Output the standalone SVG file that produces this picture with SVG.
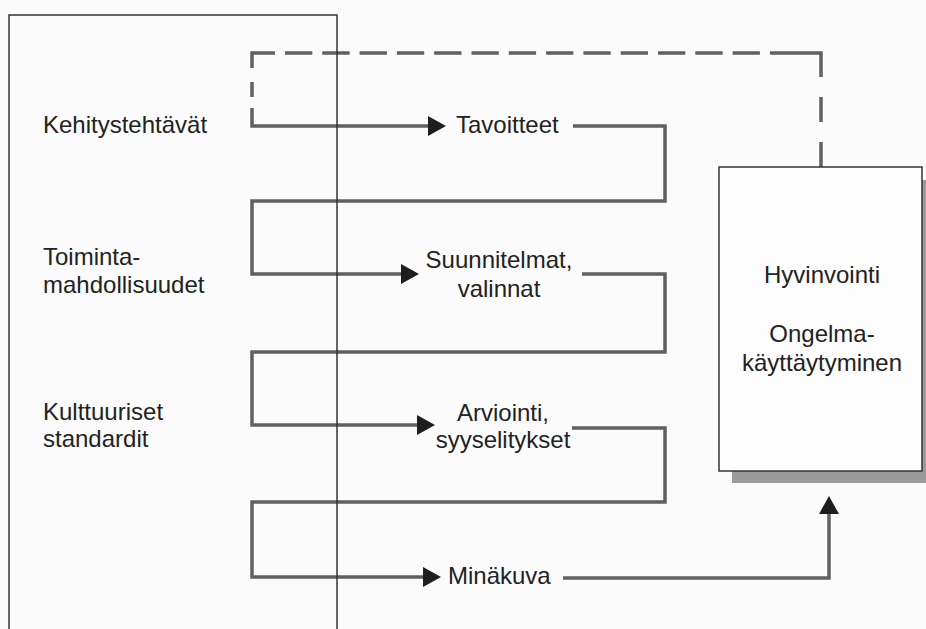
<svg xmlns="http://www.w3.org/2000/svg" width="926" height="629" viewBox="0 0 926 629">
  <style>
    .lbl { font-family: "Liberation Sans", Arial, sans-serif; font-size: 24px; fill: #222; }
    .mid { text-anchor: middle; }
    .conn { fill: none; stroke: #606060; stroke-width: 3.5; stroke-linejoin: miter; stroke-linecap: butt; }
    .dash { stroke-dasharray: 27.3 10; }
    .frame { fill: none; stroke: #333; stroke-width: 1.5; }
    .box { fill: #fdfdfd; stroke: #333; stroke-width: 1.5; }
    .shadow { fill: #9a9a9a; }
  </style>
  <defs>
    <marker id="arrow" viewBox="0 0 18 20" refX="4" refY="10" markerWidth="18" markerHeight="20" markerUnits="userSpaceOnUse" orient="auto">
      <path d="M0,0 L18,10 L0,20 Z" fill="#1e1e1e"/>
    </marker>
  </defs>
  <rect x="0" y="0" width="926" height="629" fill="#fbfbfb"/>

  <g id="connectors">
    <g id="feedback-dashed">
      <path class="conn" d="M252,97 V82 M252,68 V53 H275 M797,53 H821 V77 M821,97 V122 M821,142 V167"/>
      <path class="conn dash" d="M285,53 H797"/>
    </g>
    <path id="to-tavoitteet" class="conn" marker-end="url(#arrow)" d="M252,108 V126 H432"/>
    <path id="to-suunnitelmat" class="conn" marker-end="url(#arrow)" d="M573,126 H665 V201 H252 V274 H405"/>
    <path id="to-arviointi" class="conn" marker-end="url(#arrow)" d="M582,274 H665 V352 H252 V425 H421"/>
    <path id="to-minakuva" class="conn" marker-end="url(#arrow)" d="M572,428 H665 V502 H252 V577 H427"/>
    <path id="to-outcome" class="conn" marker-end="url(#arrow)" d="M563,578 H829 V510"/>
  </g>

  <g id="context-frame">
    <rect class="frame" x="9" y="15" width="328" height="700"/>
  </g>

  <g id="kehitystehtavat">
    <text class="lbl" x="43" y="133">Kehitystehtävät</text>
  </g>
  <g id="toimintamahdollisuudet">
    <text class="lbl" x="43" y="265">Toiminta-</text>
    <text class="lbl" x="43" y="293">mahdollisuudet</text>
  </g>
  <g id="kulttuuriset-standardit">
    <text class="lbl" x="43" y="420">Kulttuuriset</text>
    <text class="lbl" x="43" y="447">standardit</text>
  </g>

  <g id="tavoitteet">
    <text class="lbl" x="456" y="133">Tavoitteet</text>
  </g>
  <g id="suunnitelmat">
    <text class="lbl mid" x="499" y="268">Suunnitelmat,</text>
    <text class="lbl mid" x="499" y="297">valinnat</text>
  </g>
  <g id="arviointi">
    <text class="lbl mid" x="503" y="421">Arviointi,</text>
    <text class="lbl mid" x="503" y="448">syyselitykset</text>
  </g>
  <g id="minakuva">
    <text class="lbl" x="448" y="584">Minäkuva</text>
  </g>

  <g id="outcome">
    <rect class="shadow" x="732" y="471" width="200" height="12"/>
    <rect class="shadow" x="922" y="180" width="10" height="303"/>
    <rect class="box" x="719" y="167" width="203" height="304"/>
    <text class="lbl mid" x="822" y="283">Hyvinvointi</text>
    <text class="lbl mid" x="822" y="342">Ongelma-</text>
    <text class="lbl mid" x="822" y="371">käyttäytyminen</text>
  </g>
</svg>
